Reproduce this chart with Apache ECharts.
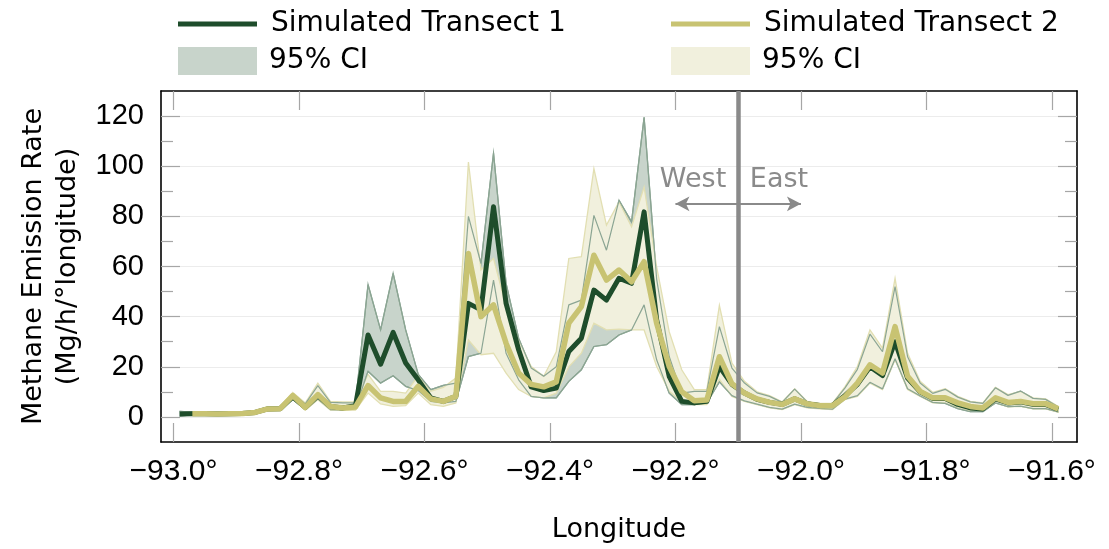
<!DOCTYPE html>
<html>
<head>
<meta charset="utf-8">
<script src="https://cdn.jsdelivr.net/npm/echarts@6/dist/echarts.min.js"></script>
<style>
html,body{margin:0;padding:0;background:#fff;}
#c{width:1109px;height:549px;}
</style>
</head>
<body>
<div id="c"></div>
<script>
// ---------------- data ----------------
const lon = [
 -92.99,-92.97,-92.95,-92.93,-92.91,-92.89,-92.87,-92.85,-92.83,-92.81,
 -92.79,-92.77,-92.75,-92.73,-92.71,-92.69,-92.67,-92.65,-92.63,-92.61,
 -92.59,-92.57,-92.55,-92.53,-92.51,-92.49,-92.47,-92.45,-92.43,-92.41,
 -92.39,-92.37,-92.35,-92.33,-92.31,-92.29,-92.27,-92.25,-92.23,-92.21,
 -92.19,-92.17,-92.15,-92.13,-92.11,-92.09,-92.07,-92.05,-92.03,-92.01,
 -91.99,-91.97,-91.95,-91.93,-91.91,-91.89,-91.87,-91.85,-91.83,-91.81,
 -91.79,-91.77,-91.75,-91.73,-91.71,-91.69,-91.67,-91.65,-91.63,-91.61,
 -91.59];

const s1Mean = [
 1.2,1.3,1.3,1.2,1.3,1.4,1.8,3.2,3.3,8.0,
 3.8,8.5,4.2,3.6,4.5,32.7,21.0,33.7,21.5,14.8,
 7.6,6.2,8.2,45.3,42.7,83.8,45.3,26.8,12.0,10.5,
 11.5,26.1,31.4,50.6,46.6,55.3,53.3,81.8,38.7,16.2,
 6.2,5.6,6.2,20.1,13.0,9.5,7.0,5.8,5.0,7.2,
 5.2,4.6,4.6,8.5,13.0,20.0,16.5,30.0,15.5,10.0,
 7.4,7.4,5.0,3.6,3.2,7.2,5.6,6.0,5.0,5.0,
 3.0];
const s1Upper = [
 2.2,1.9,1.9,1.9,1.9,1.9,2.3,3.8,4.0,9.3,
 5.2,12.5,5.8,5.6,5.6,52.8,34.7,57.3,34.7,17.0,
 10.9,12.6,13.5,80.0,61.2,105.2,53.3,31.4,19.5,16.2,
 20.0,44.7,46.6,80.4,66.5,86.4,77.8,119.5,55.0,24.1,
 9.5,10.2,10.2,36.0,19.5,13.5,9.6,8.2,5.8,11.1,
 6.0,5.2,5.2,11.5,19.0,33.0,26.0,52.0,24.0,13.5,
 9.4,11.0,7.9,6.0,5.4,11.6,8.6,10.3,7.4,7.0,
 4.0];
const s1Lower = [
 0.4,0.8,0.8,0.8,0.8,0.8,1.3,2.7,2.8,7.0,
 2.9,7.2,2.9,2.8,3.5,18.2,13.5,16.4,12.2,10.5,
 6.2,5.6,6.2,24.1,25.4,54.6,25.4,14.8,8.2,7.6,
 7.6,14.2,18.8,28.1,28.8,32.7,34.7,44.7,22.8,9.5,
 4.9,4.9,5.6,14.0,8.5,6.4,5.1,3.8,3.1,5.1,
 3.8,3.4,3.1,7.1,8.5,13.8,11.2,23.2,11.2,8.4,
 5.8,5.4,3.3,2.1,2.1,5.6,4.1,4.3,3.3,3.3,
 2.0];

const s2Mean = [
 null,1.3,1.3,1.2,1.3,1.4,1.8,3.2,3.3,8.5,
 3.8,8.9,4.2,3.6,4.0,12.5,7.6,6.2,6.2,12.2,
 7.2,6.2,8.2,65.2,40.0,44.7,29.4,17.5,13.0,12.0,
 14.0,37.4,44.0,64.5,54.6,58.6,53.9,61.9,37.4,20.1,
 10.0,6.5,6.8,24.0,13.2,9.5,7.2,5.8,5.0,7.2,
 5.2,4.5,4.5,8.0,13.5,20.8,17.5,36.0,16.2,10.2,
 7.6,7.6,5.6,4.2,3.6,7.6,5.8,6.2,5.3,5.3,
 3.2];
const s2Upper = [
 null,2.0,2.0,2.0,2.0,2.0,2.4,4.0,4.2,9.8,
 5.6,13.5,6.2,6.0,6.0,17.0,10.2,10.2,9.5,16.4,
 10.2,11.8,15.5,101.7,58.6,63.2,44.0,30.7,20.1,16.2,
 26.0,63.2,63.9,99.0,76.5,85.8,75.8,91.7,59.9,34.0,
 18.8,10.9,10.9,44.5,21.5,14.2,10.0,8.5,6.0,11.2,
 6.2,5.4,5.4,12.0,20.1,34.7,27.4,55.3,25.4,14.2,
 9.8,11.3,8.2,6.2,5.6,11.8,8.9,10.2,7.6,7.2,
 4.2];
const s2Lower = [
 null,0.7,0.7,0.7,0.7,0.7,1.2,2.5,2.6,7.2,
 2.7,6.9,2.7,2.6,2.7,9.5,5.2,4.2,4.5,9.5,
 4.9,4.2,5.6,30.7,24.8,25.4,17.5,10.9,8.2,7.6,
 9.5,20.0,25.4,37.4,34.7,35.0,34.7,34.7,20.1,10.2,
 6.2,4.9,4.9,15.0,8.2,6.2,4.9,3.6,2.9,4.9,
 3.6,3.2,2.9,6.9,8.2,13.5,10.9,22.8,10.9,8.2,
 5.6,5.6,3.6,2.3,2.3,5.6,4.0,4.2,3.2,3.2,
 1.9];

const xTicks = [-93.0,-92.8,-92.6,-92.4,-92.2,-92.0,-91.8,-91.6];
const yTicks = [0,20,40,60,80,100,120];
const yMinorTicks = [10,30,50,70,90,110];

const dividerLon = -92.1;
const arrowY = 85;
const arrowWestEnd = -92.2;
const arrowEastEnd = -92.0;
const labelY = 94.5;
const westLabelLon = -92.172;
const eastLabelLon = -92.035;

// ---------------- style ----------------
const C_G = '#1e4d2b', C_Y = '#c8c372';
const F_G = '#c8d4cb', S_G = '#8ba593';
const F_Y = '#f1f0dd', S_Y = '#e2dfb2';
const TICK = '#a6a6a6';
const NUMFONT = 'Liberation Sans';
const TXTFONT = 'DejaVu Sans';

function pairs(arr){ return lon.map((x,i)=>[x, arr[i]]); }

function band(name, lo, up, fill, stroke){
  return {
    type:'custom', name, coordinateSystem:'cartesian2d', silent:true,
    itemStyle:{color:fill},
    data: lon.map((x,i)=>[x, lo[i], up[i]]),
    encode:{x:0, y:[1,2]},
    renderItem: function(params, api){
      if (params.dataIndex !== 0) return null;
      const top=[], bot=[];
      for (let i=0;i<lon.length;i++){
        if (up[i]==null || lo[i]==null) continue;
        top.push(api.coord([lon[i], up[i]]));
        bot.push(api.coord([lon[i], lo[i]]));
      }
      return {type:'polygon', shape:{points: top.concat(bot.reverse())},
              style:{fill:fill, stroke:stroke, lineWidth:1.3}};
    }
  };
}
function outline(arr, color){
  return {type:'line', data:pairs(arr), showSymbol:false, silent:true,
          lineStyle:{color:color, width:1.2}, itemStyle:{color:color}};
}

const chart = echarts.init(document.getElementById('c'), null, {renderer:'canvas'});

const xFmt = v => (v<0?'\u2212':'') + Math.abs(v).toFixed(1) + '\u00B0';
const legText = {fontFamily:TXTFONT, fontSize:28, color:'#000'};

const option = {
  animation:false,
  backgroundColor:'#fff',
  grid:{left:161, right:32, top:91, bottom:107, containLabel:false},
  legend:[
    {left:178, top:10, padding:0, itemWidth:79, itemHeight:5, icon:'rect', selectedMode:false,
     data:['Simulated Transect 1'], textStyle:Object.assign({padding:[0,0,0,9]}, legText)},
    {left:671, top:10, padding:0, itemWidth:79, itemHeight:5, icon:'rect', selectedMode:false,
     data:['Simulated Transect 2'], textStyle:Object.assign({padding:[0,0,0,9]}, legText)},
    {left:178, top:47, padding:0, itemWidth:79, itemHeight:28, icon:'rect', selectedMode:false,
     data:['95% CI'], textStyle:Object.assign({padding:[0,0,0,7]}, legText)},
    {left:671, top:47, padding:0, itemWidth:79, itemHeight:28, icon:'rect', selectedMode:false,
     data:['95% CI '], textStyle:Object.assign({padding:[0,0,0,7]}, legText)}
  ],
  xAxis:[
    {type:'value', min:-93.02, max:-91.56, position:'bottom',
     name:'Longitude', nameLocation:'middle', nameGap:74,
     nameTextStyle:{fontFamily:TXTFONT, fontSize:27, color:'#000'},
     axisLine:{show:true, onZero:false, lineStyle:{color:'#000', width:1.6}},
     axisTick:{show:true, inside:true, length:19, customValues:xTicks, lineStyle:{color:TICK, width:1.2}},
     axisLabel:{show:true, customValues:xTicks, formatter:xFmt, margin:15,
                fontFamily:NUMFONT, fontSize:30, color:'#000'},
     splitLine:{show:false}},
    {type:'value', min:-93.02, max:-91.56, position:'top',
     axisLine:{show:true, onZero:false, lineStyle:{color:'#000', width:1.6}},
     axisTick:{show:true, inside:true, length:19, customValues:xTicks, lineStyle:{color:TICK, width:1.2}},
     axisLabel:{show:false}, splitLine:{show:false}}
  ],
  yAxis:[
    {type:'value', min:-10, max:130, splitNumber:7, position:'left',
     name:'Methane Emission Rate\n(Mg/h/\u00B0longitude)', nameLocation:'middle', nameGap:68, nameRotate:90,
     nameTextStyle:{fontFamily:TXTFONT, fontSize:27, color:'#000', lineHeight:34, align:'center'},
     axisLine:{show:true, onZero:false, lineStyle:{color:'#000', width:1.6}},
     axisTick:{show:true, inside:true, length:19, customValues:yTicks, lineStyle:{color:TICK, width:1.2}},
     axisLabel:{show:true, customValues:yTicks, margin:17, fontFamily:NUMFONT, fontSize:29, color:'#000'},
     splitLine:{show:true, lineStyle:{color:'#ececec', width:1}}},
    {type:'value', min:-10, max:130, position:'left',
     axisLine:{show:false},
     axisTick:{show:true, inside:true, length:12, customValues:yMinorTicks, lineStyle:{color:TICK, width:1.2}},
     axisLabel:{show:false}, splitLine:{show:false}},
    {type:'value', min:-10, max:130, position:'right',
     axisLine:{show:true, onZero:false, lineStyle:{color:'#000', width:1.6}},
     axisTick:{show:true, inside:true, length:19, customValues:yTicks, lineStyle:{color:TICK, width:1.2}},
     axisLabel:{show:false}, splitLine:{show:false}},
    {type:'value', min:-10, max:130, position:'right',
     axisLine:{show:false},
     axisTick:{show:true, inside:true, length:12, customValues:yMinorTicks, lineStyle:{color:TICK, width:1.2}},
     axisLabel:{show:false}, splitLine:{show:false}}
  ],
  series:[
    band('95% CI', s1Lower, s1Upper, F_G, S_G),
    band('95% CI ', s2Lower, s2Upper, F_Y, S_Y),
    outline(s1Upper, S_G),
    outline(s1Lower, S_G),
    {type:'line', name:'Simulated Transect 1', data:pairs(s1Mean), showSymbol:false, silent:true,
     lineStyle:{color:C_G, width:5, join:'round'}, itemStyle:{color:C_G}},
    {type:'line', name:'Simulated Transect 2', data:pairs(s2Mean), showSymbol:false, silent:true,
     lineStyle:{color:C_Y, width:5.5, join:'round'}, itemStyle:{color:C_Y},
     markLine:{silent:true, symbol:'none', label:{show:false}, animation:false,
       data:[
         {xAxis:dividerLon, lineStyle:{color:'#8a8a8a', width:4.5, type:'solid'}},
         [{coord:[dividerLon, arrowY], symbol:'none'}, {coord:[arrowWestEnd, arrowY], symbol:'arrow', symbolSize:[11,14]}],
         [{coord:[dividerLon, arrowY], symbol:'none'}, {coord:[arrowEastEnd, arrowY], symbol:'arrow', symbolSize:[11,14]}]
       ],
       lineStyle:{color:'#8a8a8a', width:2, type:'solid'}}}
  ]
};
chart.setOption(option);

const pW = chart.convertToPixel({xAxisIndex:0, yAxisIndex:0}, [westLabelLon, labelY]);
const pE = chart.convertToPixel({xAxisIndex:0, yAxisIndex:0}, [eastLabelLon, labelY]);
chart.setOption({graphic:[
  {type:'text', x:pW[0], y:pW[1], z:100, style:{text:'West', fontFamily:TXTFONT, fontSize:27, fill:'#8a8a8a', align:'center', verticalAlign:'middle'}},
  {type:'text', x:pE[0], y:pE[1], z:100, style:{text:'East', fontFamily:TXTFONT, fontSize:27, fill:'#8a8a8a', align:'center', verticalAlign:'middle'}}
]});
</script>
</body>
</html>
